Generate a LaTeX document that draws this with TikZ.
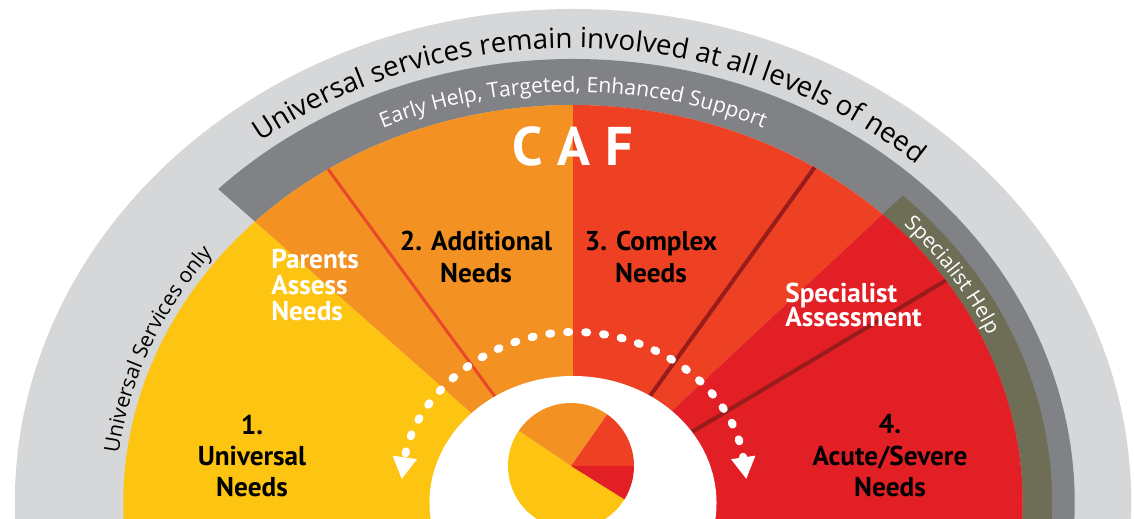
\documentclass[tikz,border=0pt]{standalone}
\usepackage{fontspec}
\setmainfont{PT Sans}
\newfontfamily\curvefont{Open Sans}
\usetikzlibrary{arrows.meta, decorations.text, positioning}
\definecolor{bandlight}{HTML}{D6D7D9}
\definecolor{banddark}{HTML}{808286}
\definecolor{bandolive}{HTML}{6E6E57}
\definecolor{needyellow}{HTML}{FDC412}
\definecolor{needorange}{HTML}{F39223}
\definecolor{needcomplex}{HTML}{EE4124}
\definecolor{needacute}{HTML}{E31F26}
\definecolor{splitred}{HTML}{E8482B}
\definecolor{splitdark}{HTML}{9A1C1A}
\tikzset{>=latex}

\begin{document}
\begin{tikzpicture}[x=0.02cm, y=0.02cm,
    needtext/.style={font=\bfseries\fontsize{15.5}{17.9}\selectfont, inner sep=0pt, align=center},
    asktext/.style={font=\bfseries\fontsize{15.5}{14.8}\selectfont, inner sep=0pt, align=left, text=white},
    curvetext/.style={decorate, decoration={text along path, text align=center, text color=#1}},
    split/.style={line width=2.3pt, splitdark}]
    \useasboundingbox (0,0) rectangle (1134,519);
    \clip (0,0) rectangle (1134,519);
    \begin{scope}[shift={(573,16)}, xscale=1.13]
        \fill[bandlight] (0,0) circle[radius=494];
        \fill[banddark] (135:444) arc[start angle=135, end angle=-10, radius=444] -- (-10:398) arc[start angle=-10, end angle=135, radius=398] -- cycle;
        \fill[bandolive] (46.5:424) arc[start angle=46.5, end angle=-10, radius=424] -- (-10:398) arc[start angle=-10, end angle=46.5, radius=398] -- cycle;
        \fill[needyellow] (0,0) -- (135:398) arc[start angle=135, end angle=190, radius=398] -- cycle;
        \fill[needorange] (0,0) -- (90:398) arc[start angle=90, end angle=135, radius=398] -- cycle;
        \fill[needcomplex] (0,0) -- (46.5:398) arc[start angle=46.5, end angle=90, radius=398] -- cycle;
        \fill[needacute] (0,0) -- (-10:398) arc[start angle=-10, end angle=46.5, radius=398] -- cycle;
        \draw[splitred, line width=1.7pt] (0,0) -- (123:398);
        \draw[split] (0,0) -- (57.5:398);
        \draw[split] (0,0) -- (34:398);
        \fill[white] (0,0) circle[radius=127];
    \end{scope}
    \begin{scope}[shift={(571,53)}]
        \fill[needyellow] (0,0) -- (146:63) arc[start angle=146, end angle=328, radius=63] -- cycle;
        \fill[needorange] (0,0) -- (55:63) arc[start angle=55, end angle=146, radius=63] -- cycle;
        \fill[needcomplex] (0,0) -- (0:63) arc[start angle=0, end angle=55, radius=63] -- cycle;
        \fill[needacute] (0,0) -- (-32:63) arc[start angle=-32, end angle=0, radius=63] -- cycle;
    \end{scope}
    \coordinate (cycleR) at ({574+174*cos(8)},{16+171*sin(8)});
    \draw[white, line width=0.16cm, line cap=round, dash pattern=on 0.04cm off 0.32cm, {Triangle[width=0.46cm, length=0.44cm]}-{Triangle[width=0.46cm, length=0.44cm]}] (cycleR) arc[start angle=8, end angle=172, x radius=174, y radius=171];

    \path[curvetext=black, decoration={text={|\curvefont\fontsize{15.8}{18}\selectfont|Universal services remain involved at all levels of need}}] ({573+514.15*cos(170)},{16+455*sin(170)}) arc[start angle=170, end angle=5.2, x radius=514.15, y radius=455];
    \path[curvetext=white, decoration={text={|\curvefont\fontsize{12}{14}\selectfont|Early Help, Targeted, Enhanced Support}}] ({573+464.43*cos(120)},{16+411*sin(120)}) arc[start angle=120, end angle=60, x radius=464.43, y radius=411];
    \path[curvetext=black, decoration={text={|\curvefont\fontsize{12}{14}\selectfont|Universal Services only}}] ({573+457.65*cos(185)},{16+405*sin(185)}) arc[start angle=185, end angle=130.6, x radius=457.65, y radius=405];
    \path[curvetext=white, decoration={text={|\curvefont\fontsize{11.8}{14}\selectfont|Specialist Help}}] ({573+456.5*cos(50)},{16+404*sin(50)}) arc[start angle=50, end angle=17.8, x radius=456.5, y radius=404];

    \node[font=\bfseries\fontsize{31}{32}\selectfont, text=white, inner sep=0pt] (caf) at (573,373) {C\kern0.3cm A\kern0.3cm F};
    \node[needtext] (additional) at (476,262) {2. Additional\\Needs};
    \node[needtext] (complex) at (651,262) {3. Complex\\Needs};
    \node[asktext, anchor=west] (parents) at (271,234) {Parents\\Assess\\Needs};
    \node[asktext, anchor=west, font=\bfseries\fontsize{15.5}{14.2}\selectfont] (specialist) at (785,214) {Specialist\\Assessment};
    \node[needtext] (universal) at (252,63) {1.\\Universal\\Needs};
    \node[needtext] (acute) at (890,63) {4.\\Acute/Severe\\Needs};
\end{tikzpicture}
\end{document}
